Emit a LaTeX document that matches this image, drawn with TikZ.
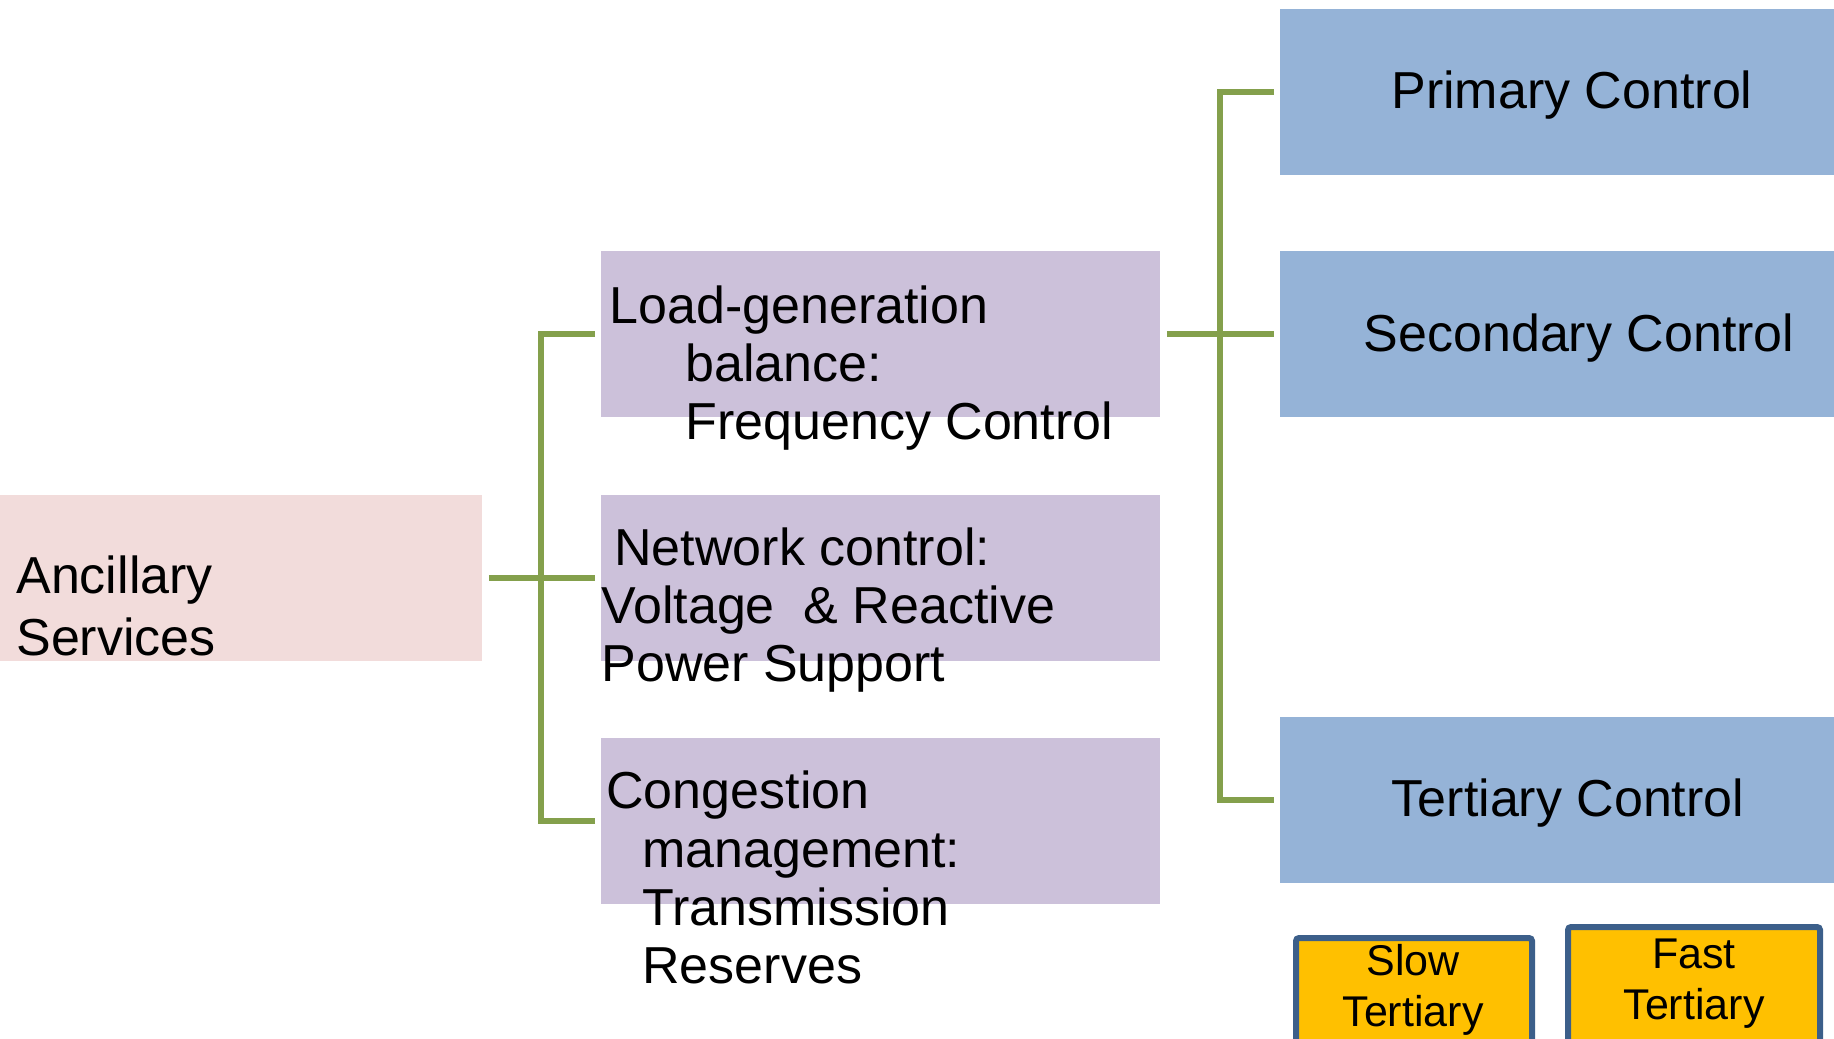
\documentclass[tikz,border=0pt]{standalone}
\usepackage{fontspec}
\setmainfont{Liberation Sans}
\definecolor{ancfill}{HTML}{F2DCDB}
\definecolor{midfill}{HTML}{CCC1DA}
\definecolor{ctlfill}{HTML}{95B3D7}
\definecolor{linkgreen}{HTML}{84A04C}
\definecolor{tertfill}{HTML}{FFC000}
\definecolor{tertedge}{HTML}{3C5F8A}
\begin{document}
\begin{tikzpicture}[x=0.5pt,y=-0.5pt,
  block/.style={rectangle, draw=none, inner sep=0pt, anchor=north west, minimum height=83pt},
  midbox/.style={block, fill=midfill, minimum width=279.5pt},
  ctlbox/.style={block, fill=ctlfill, minimum width=300pt},
  tbox/.style={rectangle, inner sep=0pt, anchor=north west, draw=tertedge, fill=tertfill, line width=3pt, rounded corners=1.5pt},
  lbl/.style={anchor=base west, inner sep=0pt, font=\fontsize{26}{31}\selectfont},
  clbl/.style={anchor=base, inner sep=0pt, font=\fontsize{26}{31}\selectfont},
  slbl/.style={anchor=base, inner sep=0pt, font=\fontsize{21.5}{26}\selectfont},
  conn/.style={draw=linkgreen, line width=3pt, shorten <=3pt, shorten >=3pt}]
\useasboundingbox (0,0) rectangle (1834,1038);
\clip (0,0) rectangle (1834,1038);

% boxes
\node[block, fill=ancfill, minimum width=241pt] (anc) at (0,495) {};
\node[midbox] (lg) at (601,251) {};
\node[midbox] (nc) at (601,495) {};
\node[midbox] (cm) at (601,738) {};
\node[ctlbox] (pc) at (1280,9) {};
\node[ctlbox] (sc) at (1280,251) {};
\node[ctlbox] (tc) at (1280,717) {};
\node[tbox, minimum width=118pt, minimum height=62pt] (slow) at (1293,935) {};
\node[tbox, minimum width=126pt, minimum height=68pt] (fast) at (1565,924) {};

% junction columns
\coordinate (jl) at (541,577);
\coordinate (jr) at (1220,335);

% connectors
\draw[conn] (anc.east) -- (nc.west);
\draw[conn] (lg.west) -- (jl |- lg.west) -- (jl |- cm.west) -- (cm.west);
\draw[conn] (lg.east) -- (sc.west);
\draw[conn] (pc.west) -- (jr |- pc.west) -- (jr |- tc.west) -- (tc.west);

% labels
\node[lbl] (ancA) at (16,593) {Ancillary};
\node[lbl] (ancB) at (16,655) {Services};

\node[lbl] (lgA) at (609,323) {Load-generation};
\node[lbl] (lgB) at (685,381) {balance:};
\node[lbl] (lgC) at (685,439) {Frequency Control};

\node[lbl] (ncA) at (614,565) {Network control:};
\node[lbl] (ncB) at (601,623) {Voltage\ \ \& Reactive};
\node[lbl] (ncC) at (601,681) {Power Support};

\node[lbl] (cmA) at (606,808) {Congestion};
\node[lbl] (cmB) at (642,867) {management:};
\node[lbl] (cmC) at (642,925) {Transmission};
\node[lbl] (cmD) at (642,983) {Reserves};

\node[clbl] (pct) at (1572,109) {Primary Control};
\node[clbl] (sct) at (1579,351) {Secondary Control};
\node[clbl] (tct) at (1568,816) {Tertiary Control};

\node[slbl] (slowA) at (1413,975) {Slow};
\node[slbl] (slowB) at (1413,1026) {Tertiary};
\node[slbl] (fastA) at (1694,968) {Fast};
\node[slbl] (fastB) at (1694,1019) {Tertiary};
\end{tikzpicture}
\end{document}
